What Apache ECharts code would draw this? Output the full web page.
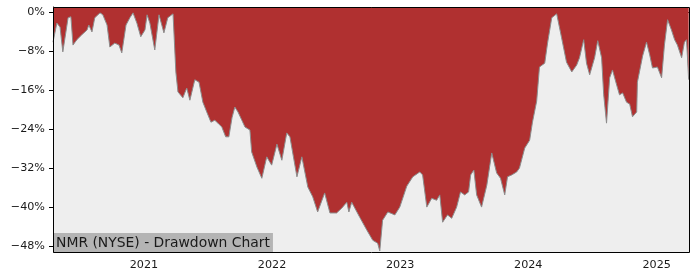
<!DOCTYPE html>
<html><head><meta charset="utf-8">
<script src="https://cdn.jsdelivr.net/npm/echarts@6/dist/echarts.min.js"></script>
<style>html,body{margin:0;padding:0;background:#fff}#c{width:700px;height:280px}</style>
</head><body><div id="c"></div>
<script>
const dates = ['2020-04-17','2020-04-20','2020-04-28','2020-05-07','2020-05-15','2020-05-30','2020-06-07','2020-06-13','2020-06-24','2020-07-08','2020-07-23','2020-07-28','2020-08-06','2020-08-14','2020-08-29','2020-09-06','2020-09-18','2020-09-26','2020-10-10','2020-10-22','2020-10-30','2020-11-11','2020-11-22','2020-12-01','2020-12-12','2020-12-23','2021-01-04','2021-01-10','2021-01-18','2021-02-01','2021-02-13','2021-02-21','2021-02-27','2021-03-10','2021-03-25','2021-04-02','2021-04-08','2021-04-22','2021-05-03','2021-05-12','2021-05-26','2021-06-07','2021-06-18','2021-06-29','2021-07-11','2021-07-22','2021-07-31','2021-08-11','2021-08-22','2021-08-31','2021-09-09','2021-09-17','2021-09-26','2021-10-07','2021-10-16','2021-10-30','2021-11-04','2021-11-19','2021-12-03','2021-12-17','2021-12-31','2022-01-15','2022-01-29','2022-02-12','2022-02-21','2022-03-13','2022-03-27','2022-04-13','2022-04-27','2022-05-11','2022-05-31','2022-06-15','2022-07-04','2022-07-19','2022-08-02','2022-08-08','2022-08-16','2022-09-08','2022-09-28','2022-10-15','2022-10-29','2022-11-04','2022-11-12','2022-11-27','2022-12-17','2022-12-31','2023-01-20','2023-02-06','2023-02-26','2023-03-06','2023-03-18','2023-04-01','2023-04-15','2023-04-24','2023-05-02','2023-05-16','2023-05-28','2023-06-11','2023-06-22','2023-07-04','2023-07-15','2023-07-21','2023-07-30','2023-08-07','2023-08-21','2023-09-05','2023-09-19','2023-10-03','2023-10-14','2023-10-26','2023-11-03','2023-11-15','2023-11-29','2023-12-07','2023-12-22','2024-01-05','2024-01-13','2024-01-25','2024-02-02','2024-02-17','2024-02-25','2024-03-08','2024-03-22','2024-04-05','2024-04-19','2024-05-04','2024-05-18','2024-05-26','2024-06-07','2024-06-15','2024-06-24','2024-07-08','2024-07-17','2024-07-28','2024-08-03','2024-08-11','2024-08-20','2024-08-28','2024-09-09','2024-09-17','2024-09-26','2024-10-07','2024-10-16','2024-10-24','2024-11-05','2024-11-07','2024-11-22','2024-12-03','2024-12-12','2024-12-20','2025-01-03','2025-01-15','2025-01-23','2025-02-01','2025-02-12','2025-02-21','2025-03-01','2025-03-13','2025-03-21','2025-03-27','2025-04-02'];
const drawdown = [-6.2,-6.6,-2.3,-3.1,-8.2,-1.2,-1.0,-6.8,-5.7,-4.7,-3.7,-2.7,-4.1,-1.2,-0.2,-0.6,-2.7,-7.2,-6.4,-6.8,-8.4,-2.7,-1.2,-0.2,-2.3,-5.1,-3.7,-0.6,-2.3,-7.8,-0.6,-2.7,-4.3,-1.2,-0.4,-12.3,-16.4,-17.6,-15.6,-18.1,-13.9,-14.4,-18.5,-20.5,-22.6,-22.2,-22.8,-23.6,-25.6,-25.6,-21.7,-19.5,-20.5,-22.2,-23.6,-24.2,-28.7,-31.8,-34.1,-29.7,-31.4,-27.1,-30.4,-24.8,-25.6,-33.8,-29.7,-35.9,-37.9,-41.0,-37.1,-41.2,-41.2,-40.2,-39.0,-41.0,-39.0,-42.1,-44.7,-46.8,-47.4,-49.0,-42.7,-41.0,-41.6,-40.0,-35.7,-33.8,-32.8,-33.4,-40.0,-38.2,-38.6,-37.5,-43.1,-41.6,-42.3,-40.0,-36.9,-37.5,-36.9,-33.4,-32.4,-37.5,-40.0,-35.5,-28.9,-33.0,-34.1,-37.5,-33.8,-33.4,-32.8,-32.0,-27.9,-26.3,-22.6,-18.3,-11.3,-10.5,-6.4,-1.2,-0.4,-5.3,-10.3,-12.3,-10.9,-9.4,-5.7,-10.5,-12.9,-9.4,-5.9,-9.4,-17.0,-22.8,-13.5,-11.9,-15.0,-17.0,-16.6,-18.5,-18.9,-21.5,-20.5,-14.4,-9.0,-6.2,-8.8,-11.5,-11.3,-13.5,-6.8,-1.6,-3.7,-5.7,-6.8,-9.4,-6.2,-5.7,-13.9];
const yearTicks = ['2021-01-01','2022-01-01','2023-01-01','2024-01-01','2025-01-01'];
const yTicks = [0,-8,-16,-24,-32,-40,-48];
const titleText = 'NMR (NYSE) - Drawdown Chart';

const ts = d => Date.parse(d + 'T00:00:00Z');
const chart = echarts.init(document.getElementById('c'), null, {renderer:'canvas'});
const font = 'DejaVu Sans';
const yearVals = yearTicks.map(ts);
chart.setOption({
  animation: false,
  backgroundColor: '#fff',
  grid: {left: 53, right: 11, top: 7, bottom: 28, show: true, backgroundColor: '#eeeeee', borderWidth: 0},
  title: {
    text: titleText, left: 53, bottom: 28, padding: [2, 3, 1, 3],
    backgroundColor: '#b4b4b4',
    textStyle: {fontFamily: font, fontSize: 13.9, fontWeight: 'normal', color: '#1a1a1a', lineHeight: 16}
  },
  xAxis: {
    type: 'value', min: ts('2020-04-17'), max: ts('2025-04-03'), scale: true,
    axisLine: {lineStyle: {color: '#000', width: 1}},
    axisTick: {show: true, length: 4, lineStyle: {color: '#000'}, customValues: yearVals},
    axisLabel: {customValues: yearVals, formatter: v => String(new Date(v).getUTCFullYear()), fontFamily: font, fontSize: 11.2, color: '#1a1a1a', margin: 8},
    splitLine: {show: false}
  },
  yAxis: {
    type: 'value', min: -49.2, max: 1.0,
    axisLine: {show: true, lineStyle: {color: '#000', width: 1}},
    axisTick: {show: true, length: 4, lineStyle: {color: '#000'}, customValues: yTicks},
    axisLabel: {customValues: yTicks, formatter: v => (v < 0 ? '\u2212' + Math.abs(v) : String(v)) + '%', fontFamily: font, fontSize: 11.2, color: '#1a1a1a', margin: 8},
    splitLine: {show: false}
  },
  series: [{
    type: 'line',
    data: dates.map((d, i) => [ts(d), drawdown[i]]),
    showSymbol: false,
    lineStyle: {color: '#8c8c8c', width: 1},
    areaStyle: {color: '#b03030', opacity: 1, origin: 'end'},
    z: 2
  }],
  graphic: [{
    type: 'rect', z: 100, silent: true,
    shape: {x: 53.5, y: 7.5, width: 636, height: 245},
    style: {fill: 'none', stroke: '#000', lineWidth: 1}
  }]
});
</script>
</body></html>
